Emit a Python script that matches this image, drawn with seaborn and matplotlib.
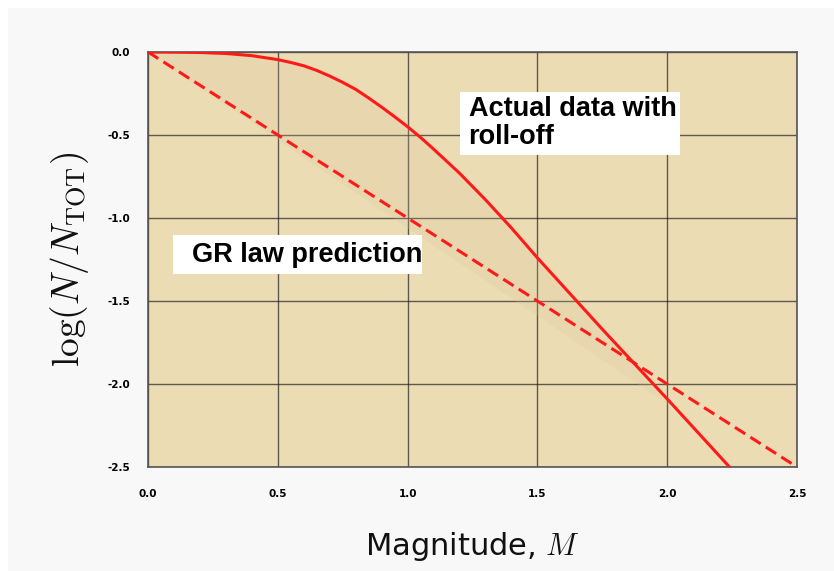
import numpy as np
import pandas as pd
import seaborn as sns
import matplotlib
matplotlib.use("Agg")
import matplotlib.pyplot as plt
from matplotlib.patches import Rectangle

# ---- data ----
actual_m = [0.0, 0.1, 0.2, 0.3, 0.4, 0.5, 0.55, 0.6, 0.65, 0.7, 0.75, 0.8, 0.85,
            0.9, 0.95, 1.0, 1.05, 1.1, 1.2, 1.3, 1.4, 1.5, 1.75, 2.0, 2.24]
actual_log = [0.0, -0.001, -0.003, -0.009, -0.022, -0.046, -0.063, -0.083, -0.111,
              -0.145, -0.183, -0.225, -0.277, -0.332, -0.39, -0.45, -0.515, -0.585,
              -0.73, -0.89, -1.06, -1.24, -1.67, -2.09, -2.5]
gr_m = [0.0, 2.5]
gr_log = [0.0, -2.5]
shade_m = [0.0, 2.36]
shade_log = [0.0, -2.5]
xticks = [0.0, 0.5, 1.0, 1.5, 2.0, 2.5]
yticks = [0.0, -0.5, -1.0, -1.5, -2.0, -2.5]

actual_df = pd.DataFrame({"M": actual_m, "logN": actual_log})
gr_df = pd.DataFrame({"M": gr_m, "logN": gr_log})

sns.set_style("white", {"axes.facecolor": "#ecdcb3"})
plt.rcParams["font.family"] = ["DejaVu Sans"]
plt.rcParams["mathtext.fontset"] = "cm"

fig = plt.figure(figsize=(8.34, 5.71), dpi=100, facecolor="white")
fig.patches.append(Rectangle((8 / 834, 0), 1, 1 - 8 / 571, transform=fig.transFigure,
                             facecolor="#f8f8f8", edgecolor="none", zorder=-10))
ax = fig.add_axes([148 / 834, 104 / 571, 649 / 834, 415 / 571])

# subtle darker shading between actual curve and a straight reference
am = np.array(actual_m)
al = np.array(actual_log)
ref = np.interp(am, shade_m, shade_log)
ax.fill_between(am, al, ref, where=al >= ref, color="#d9c79c", alpha=0.2,
                linewidth=0, zorder=1)

sns.lineplot(data=gr_df, x="M", y="logN", ax=ax, color="#ff1a1a", lw=2.2,
             linestyle=(0, (4, 2)), zorder=3)
sns.lineplot(data=actual_df, x="M", y="logN", ax=ax, color="#ff1a1a", lw=2.2,
             zorder=3)

ax.set_xlim(0, 2.5)
ax.set_ylim(-2.5, 0)
ax.set_xticks(xticks)
ax.set_yticks(yticks)
ax.set_xticklabels([f"{v:.1f}" for v in xticks], fontsize=7.5, fontweight="bold", color="black")
ax.set_yticklabels([f"{v:.1f}" for v in yticks], fontsize=7.5, fontweight="bold", color="black")
ax.tick_params(axis="both", length=0)
ax.tick_params(axis="x", pad=16)
ax.tick_params(axis="y", pad=13)
ax.grid(True, color="#222222", linewidth=1.0, alpha=0.7, zorder=2)
ax.set_axisbelow(True)
for s in ax.spines.values():
    s.set_color("#555555")
    s.set_linewidth(1.2)

ax.set_xlabel(r"Magnitude, $M$", fontsize=22, labelpad=22, color="#111111")
ax.set_ylabel(r"$\log(N/N_{\mathrm{TOT}})$", fontsize=27, labelpad=12, color="#111111")

# white label boxes
ax.add_patch(Rectangle((1.202, -0.621), 0.847, 0.38, facecolor="white",
                       edgecolor="none", zorder=4))
ax.add_patch(Rectangle((0.096, -1.337), 0.959, 0.235, facecolor="white",
                       edgecolor="none", zorder=4))
ax.text(1.235, -0.43, "Actual data with\nroll-off", fontsize=19.5, fontweight="bold",
        family=["Liberation Sans"], va="center", ha="left", color="black",
        linespacing=1.1, zorder=5)
ax.text(0.17, -1.222, "GR law prediction", fontsize=19.5, fontweight="bold",
        family=["Liberation Sans"], va="center", ha="left", color="black",
        zorder=5)

fig.savefig("out.png", dpi=100, facecolor=fig.get_facecolor())
